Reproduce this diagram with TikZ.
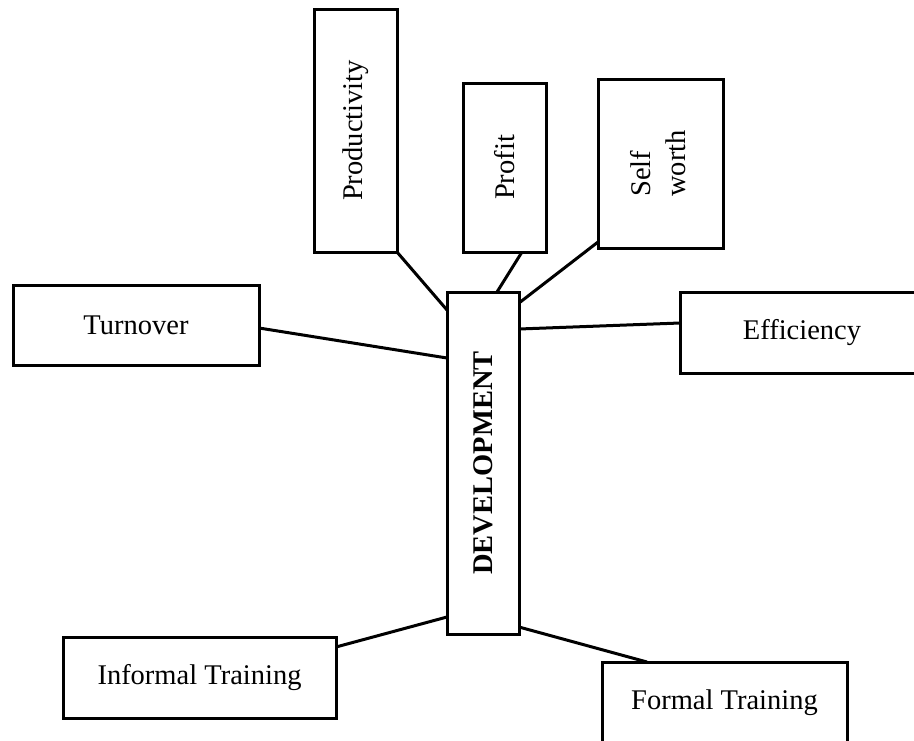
\documentclass[tikz,border=0pt]{standalone}
\usepackage{fontspec}
\setmainfont{Liberation Serif}
\newcommand{\bs}{\fontsize{28.5}{35}\selectfont}

\begin{document}
\begin{tikzpicture}[x=1pt,y=-1pt,
   box/.style={draw=black,line width=3pt,inner sep=0pt,outer sep=0pt,font=\bs},
   link/.style={line width=3pt}]
   \useasboundingbox (0,0) rectangle (914,740);
   \clip (0,0) rectangle (914,740);
   % centre
   \node[box,minimum width=72pt,minimum height=342pt] (dev) at (483,463)
      {\rotatebox{90}{\bfseries DEVELOPMENT}};
   % top
   \node[box,minimum width=83pt,minimum height=243pt] (prod) at (355.5,130.5) {\rotatebox{90}{Productivity}};
   \node[box,minimum width=83pt,minimum height=169pt] (prof) at (504.5,167.5) {\rotatebox{90}{Profit}};
   \node[box,minimum width=125pt,minimum height=169pt] (self) at (660.5,163.5)
      {\rotatebox{90}{\begin{tabular}{@{}l@{}}Self\\worth\end{tabular}}};
   % sides
   \node[box,minimum width=246pt,minimum height=80pt] (turn) at (136,325) {Turnover};
   \node[box,minimum width=244pt,minimum height=81pt] (eff)  at (802,332.5) {Efficiency};
   \node[box,minimum width=273pt,minimum height=81pt] (inf)  at (199.5,677.5) {Informal Training};
   \node[box,minimum width=245pt,minimum height=81pt] (form) at (724.5,702.5) {Formal Training};
   % links
   \draw[link] (prod.south east) -- ([yshift=-18pt]dev.north west);
   \draw[link] ([xshift=17.5pt]prof.south) -- ([xshift=14pt]dev.north);
   \draw[link] ([yshift=6pt]self.south west) -- ([yshift=-11pt]dev.north east);
   \draw[link] ([yshift=-3pt]turn.east) -- ([yshift=-66pt]dev.north west);
   \draw[link] ([yshift=-37pt]dev.north east) -- ([yshift=9.5pt]eff.west);
   \draw[link] ([yshift=-10pt]inf.north east) -- ([yshift=17pt]dev.south west);
   \draw[link] ([yshift=7pt]dev.south east) -- ([xshift=-77.5pt]form.north);
\end{tikzpicture}
\end{document}
